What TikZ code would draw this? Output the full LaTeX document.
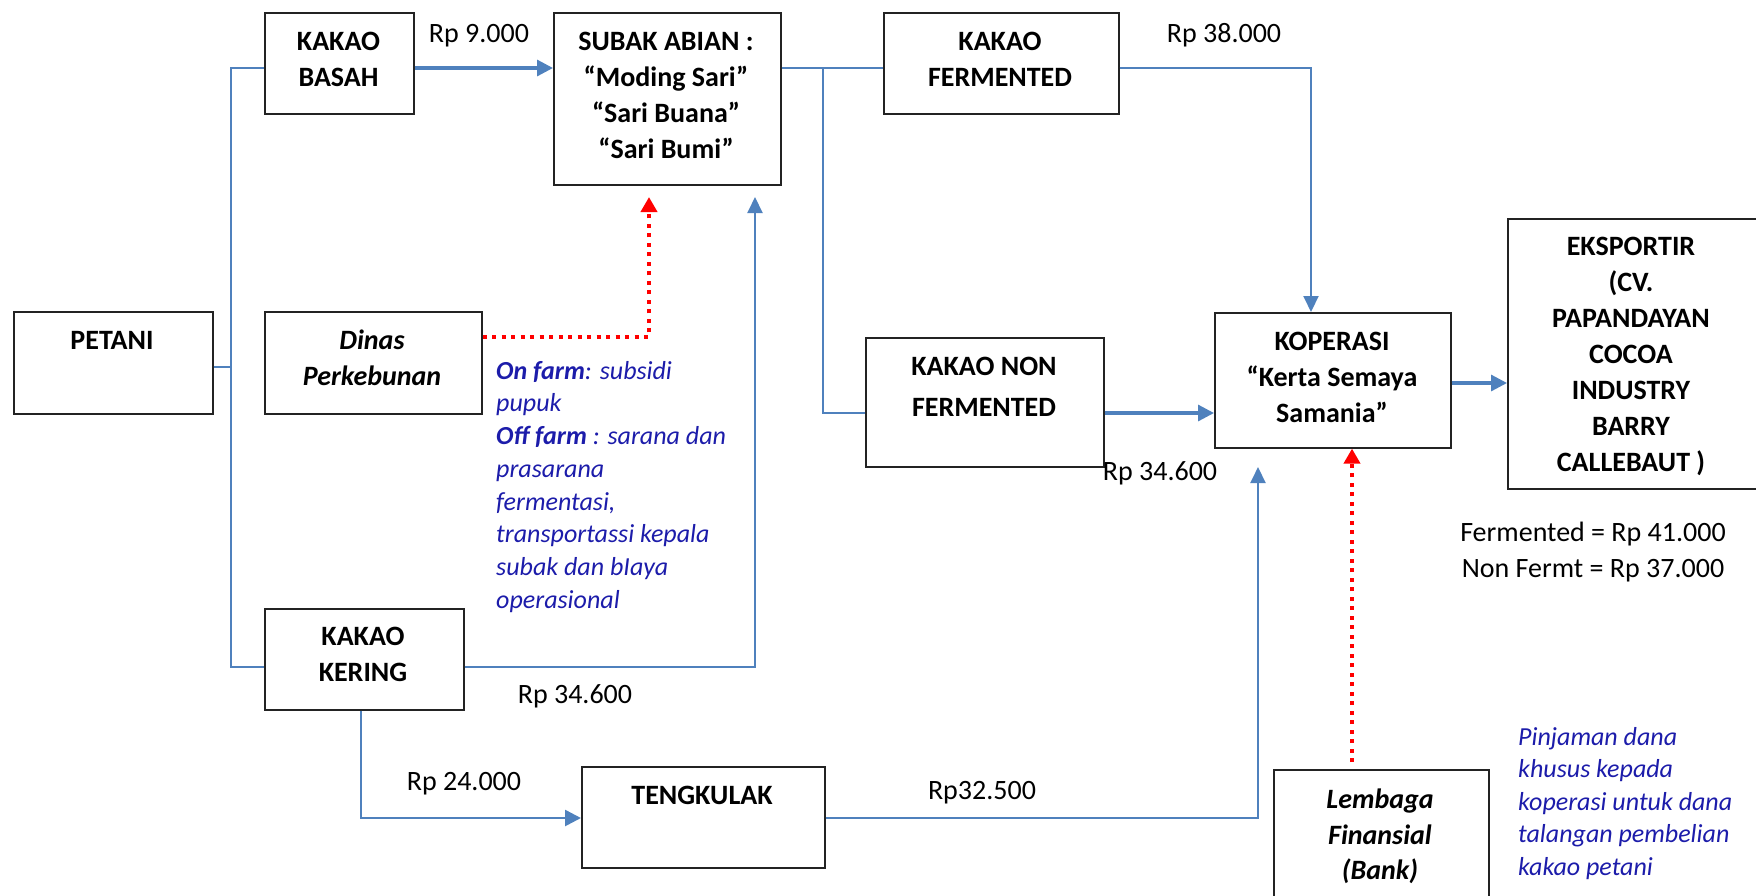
\documentclass[tikz,border=0pt]{standalone}
\usepackage{fontspec}
\setmainfont{Carlito}
\usetikzlibrary{arrows.meta}
\definecolor{flow}{RGB}{79,129,189}
\definecolor{note}{RGB}{28,28,170}
\definecolor{boxline}{RGB}{35,35,35}

\tikzset{
  box/.style={draw=boxline, line width=1.6pt, inner sep=0pt, anchor=north west},
  boxtext/.style={font=\fontsize{28}{36}\selectfont\bfseries, align=center, inner sep=0pt},
  price/.style={font=\fontsize{28}{34}\selectfont, inner sep=0pt, anchor=base},
  notetext/.style={font=\fontsize{26}{32.7}\selectfont\itshape, text=note, align=left, inner sep=0pt, anchor=north west},
  conn/.style={draw=flow, line width=2pt},
  connarrow/.style={conn, -{Triangle[length=16pt,width=15pt]}},
  heavyarrow/.style={draw=flow, line width=3.2pt, -{Triangle[length=16pt,width=16pt]}},
  support/.style={draw=red, line width=4pt, dash pattern=on 4pt off 5.5pt, -{Triangle[length=15pt,width=16pt]}},
}

\begin{document}
\begin{tikzpicture}[x=1pt, y=-1pt]
  \useasboundingbox (0,0) rectangle (1756,895);
  \clip (0,0) rectangle (1756,895);

  % boxes
  \node[box, minimum width=199pt, minimum height=102pt] (petani) at (13,311) {};
  \node[box, minimum width=149pt, minimum height=101pt] (basah)  at (264,12) {};
  \node[box, minimum width=227pt, minimum height=172pt] (subak)  at (553,12) {};
  \node[box, minimum width=235pt, minimum height=101pt] (ferm)   at (883,12) {};
  \node[box, minimum width=238pt, minimum height=129pt] (nonf)   at (865,337) {};
  \node[box, minimum width=236pt, minimum height=135pt] (kop)    at (1214,312) {};
  \node[box, minimum width=270pt, minimum height=270pt] (eks)    at (1507,218) {};
  \node[box, minimum width=217pt, minimum height=102pt] (dinas)  at (264,311) {};
  \node[box, minimum width=199pt, minimum height=101pt] (kering) at (264,608) {};
  \node[box, minimum width=243pt, minimum height=101pt] (teng)   at (581,766) {};
  \node[box, minimum width=215pt, minimum height=160pt] (lemb)   at (1273,769) {};

  % box texts
  \node[boxtext] (tpetani) at (112,340) {PETANI};
  \node[boxtext] (tbasah)  at (338.5,59) {KAKAO\\BASAH};
  \node[boxtext] (tsubak)  at (666,95) {SUBAK ABIAN :\\“Moding Sari”\\“Sari Buana”\\“Sari Bumi”};
  \node[boxtext] (tferm)   at (1000,59) {KAKAO\\FERMENTED};
  \node[boxtext, font=\fontsize{28}{41}\selectfont\bfseries] (tnonf) at (984,387) {KAKAO NON\\FERMENTED};
  \node[boxtext] (tkop)    at (1332,377) {KOPERASI\\“Kerta Semaya\\Samania”};
  \node[boxtext, anchor=north] (teks) at (1631,237) {EKSPORTIR\\(CV.\\PAPANDAYAN\\COCOA\\INDUSTRY\\BARRY\\CALLEBAUT )};
  \node[boxtext, font=\fontsize{28}{36}\selectfont\bfseries\itshape] (tdinas) at (372,358) {Dinas\\Perkebunan};
  \node[boxtext] (tkering) at (363,654) {KAKAO\\KERING};
  \node[boxtext] (tteng)   at (702,795) {TENGKULAK};
  \node[boxtext, font=\fontsize{28}{35.5}\selectfont\bfseries\itshape, anchor=north] (tlemb) at (1380,789) {Lembaga\\Finansial\\(Bank)};

  % prices
  \node[price] (p1) at (479,42)  {Rp 9.000};
  \node[price] (p2) at (1224,42) {Rp 38.000};
  \node[price] (p3) at (575,703) {Rp 34.600};
  \node[price] (p4) at (464,790) {Rp 24.000};
  \node[price] (p5) at (982,799) {Rp32.500};
  \node[price] (p6) at (1160,480) {Rp 34.600};
  \node[price] (p7) at (1593,541) {Fermented = Rp 41.000};
  \node[price] (p8) at (1593,577) {Non Fermt = Rp 37.000};

  % notes
  \node[notetext] (support) at (496,361) {\textbf{On farm}: subsidi\\pupuk\\\textbf{Off farm} : sarana dan\\prasarana\\fermentasi,\\transportassi kepala\\subak dan bIaya\\operasional};
  \node[notetext, font=\fontsize{26}{32.5}\selectfont\itshape] (loan) at (1518,727) {Pinjaman dana\\khusus kepada\\koperasi untuk dana\\talangan pembelian\\kakao petani};

  % routing points
  \coordinate (trunkTop) at (231,68);
  \coordinate (trunkMid) at (231,367);
  \coordinate (trunkBot) at (231,667);
  \coordinate (split) at (823,68);
  \coordinate (splitBot) at (823,413);
  \coordinate (fermDrop) at (1311,68);
  \coordinate (expRow) at (1330,383);
  \coordinate (keringRise) at (755,667);
  \coordinate (keringRiseEnd) at (755,197);
  \coordinate (keringDrop) at (361,818);
  \coordinate (tengRise) at (1258,818);
  \coordinate (tengRiseEnd) at (1258,467);
  \coordinate (dinasTurn) at (649,337);
  \coordinate (dinasEnd) at (649,197);
  \coordinate (bankStart) at (1352,762);

  % flows
  \draw[conn] (petani.east |- trunkMid) -- (trunkMid);
  \draw[conn] (basah.west |- trunkTop) -- (trunkTop) -- (trunkBot) -- (kering.west |- trunkBot);
  \draw[heavyarrow] (basah.east |- trunkTop) -- (subak.west |- trunkTop);
  \draw[conn] (subak.east |- split) -- (ferm.west |- split);
  \draw[conn] (split) -- (splitBot) -- (nonf.west |- splitBot);
  \draw[heavyarrow] (nonf.east |- splitBot) -- (kop.west |- splitBot);
  \draw[connarrow] (ferm.east |- fermDrop) -- (fermDrop) -- (kop.north -| fermDrop);
  \draw[heavyarrow] (kop.east |- expRow) -- (eks.west |- expRow);
  \draw[connarrow] (kering.east |- keringRise) -- (keringRise) -- (keringRiseEnd);
  \draw[heavyarrow, line width=2.6pt] (kering.south -| keringDrop) -- (keringDrop) -- (teng.west |- keringDrop);
  \draw[connarrow] (teng.east |- tengRise) -- (tengRise) -- (tengRiseEnd);

  % support lines
  \draw[support] (dinas.east |- dinasTurn) -- (dinasTurn) -- (dinasEnd);
  \draw[support] (bankStart) -- (kop.south -| bankStart);
\end{tikzpicture}
\end{document}
